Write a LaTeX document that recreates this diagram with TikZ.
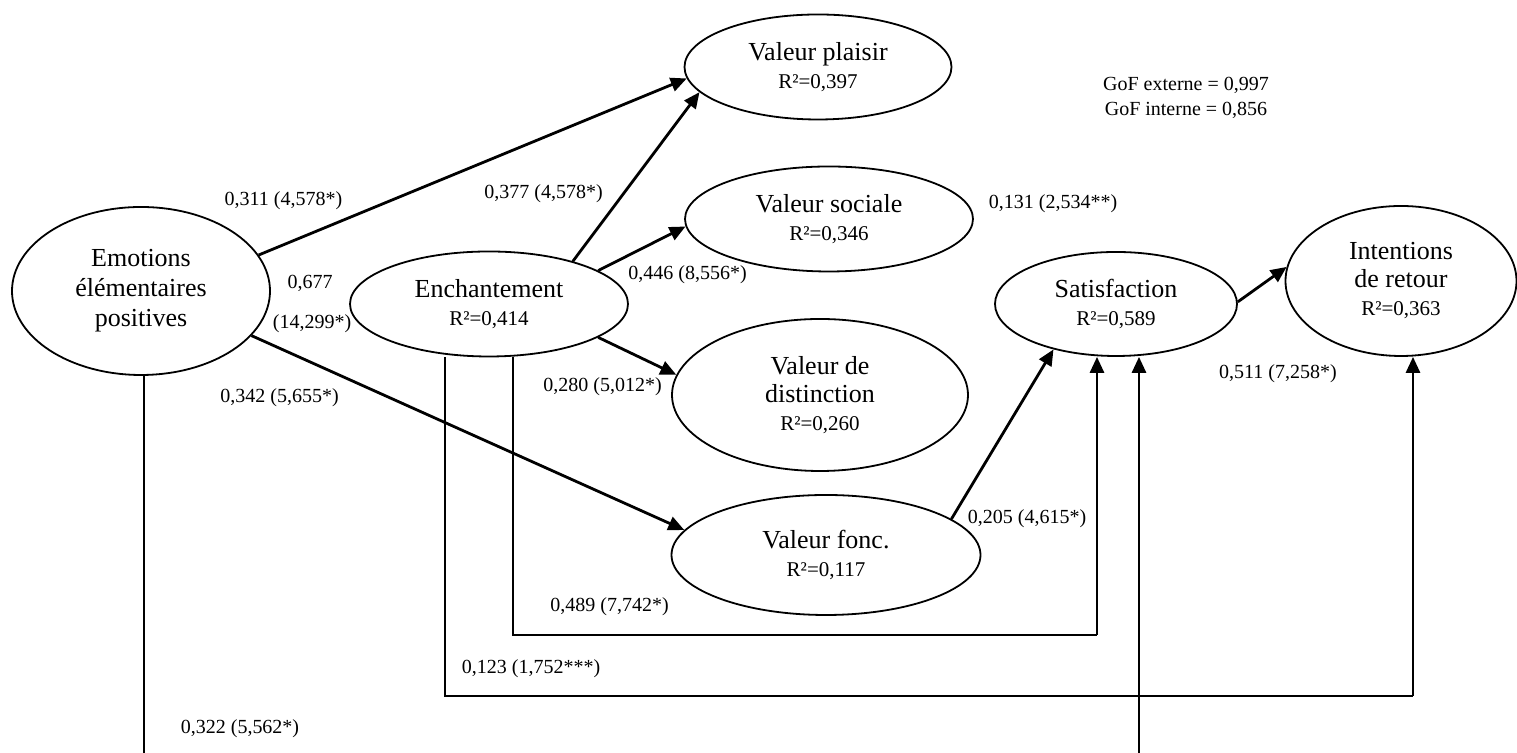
\documentclass[tikz,border=0pt]{standalone}
\usepackage{fontspec}
\setmainfont{Liberation Serif}
\usepackage{tikz}
\usetikzlibrary{arrows.meta,shapes.geometric,calc}
\tikzstyle{lv}=[ellipse,draw=black,line width=0.9pt,inner sep=0pt,
  align=center,font=\fontsize{13}{14}\selectfont]
\tikzstyle{coef}=[inner sep=0pt,align=center,font=\fontsize{10}{12.5}\selectfont]
\tikzstyle{effect}=[-{Triangle[length=8pt,width=7pt]},line width=1.4pt]
\tikzstyle{wire}=[line width=1.2pt]
\tikzstyle{none}=[]
\newcommand{\rsq}[1]{{\fontsize{10.5}{14}\selectfont R²=#1}}

\begin{document}
\begin{tikzpicture}[x=50pt,y=50pt]
            \useasboundingbox (0,0) rectangle (15.17,7.53);
            \node [style=lv,minimum width=129pt,minimum height=84pt] (0) at (1.41, 4.62) {Emotions\\[1pt]élémentaires\\[1pt]positives};
            \node [style=lv,minimum width=139pt,minimum height=52.5pt] (1) at (4.89, 4.49) {Enchantement\\\rsq{0,414}};
            \node [style=lv,minimum width=133.5pt,minimum height=52.5pt] (2) at (8.18, 6.86) {Valeur plaisir\\\rsq{0,397}};
            \node [style=lv,minimum width=144pt,minimum height=52.5pt] (3) at (8.29, 5.34) {Valeur sociale\\\rsq{0,346}};
            \node [style=lv,minimum width=148pt,minimum height=76pt] (4) at (8.20, 3.58) {Valeur de\\distinction\\\rsq{0,260}};
            \node [style=lv,minimum width=154.5pt,minimum height=60pt] (5) at (8.26, 1.98) {Valeur fonc.\\\rsq{0,117}};
            \node [style=lv,minimum width=121pt,minimum height=52pt] (6) at (11.16, 4.49) {Satisfaction\\\rsq{0,589}};
            \node [style=lv,minimum width=115.5pt,minimum height=75pt] (7) at (14.01, 4.72) {Intentions\\de retour\\\rsq{0,363}};
            \node [style=none] (8) at (1.44, 0) {};
            \node [style=none] (9) at (11.39, 0) {};
            \node [style=none] (10) at (5.13, 1.18) {};
            \node [style=none] (11) at (10.97, 1.18) {};
            \node [style=none] (12) at (4.45, 0.57) {};
            \node [style=none] (13) at (14.13, 0.57) {};
            \node [style=coef] (14) at (2.835, 5.52) {0,311 (4,578*)};
            \node [style=coef] (15) at (3.10, 4.70) {0,677};
            \node [style=coef] (16) at (3.12, 4.295) {(14,299*)};
            \node [style=coef] (17) at (2.795, 3.555) {0,342 (5,655*)};
            \node [style=coef] (18) at (5.435, 5.595) {0,377 (4,578*)};
            \node [style=coef] (19) at (6.875, 4.78) {0,446 (8,556*)};
            \node [style=coef] (20) at (10.53, 5.495) {0,131 (2,534**)};
            \node [style=coef] (21) at (11.86, 6.555) {GoF externe = 0,997\\GoF interne = 0,856};
            \node [style=coef] (22) at (12.78, 3.79) {0,511 (7,258*)};
            \node [style=coef] (23) at (6.025, 3.665) {0,280 (5,012*)};
            \node [style=coef] (24) at (10.27, 2.345) {0,205 (4,615*)};
            \node [style=coef] (25) at (6.095, 1.465) {0,489 (7,742*)};
            \node [style=coef] (26) at (5.31, 0.845) {0,123 (1,752***)};
            \node [style=coef] (27) at (2.40, 0.245) {0,322 (5,562*)};
            \draw [style=effect] (0.17) to (2.185);
            \draw [style=effect] (0.338) to (5.170);
            \draw [style=effect] (1.27) to (2.192);
            \draw [style=effect] (1.17) to (3.183);
            \draw [style=effect] (1.343) to (4.172);
            \draw [style=effect] (5.16) to (6.216);
            \draw [style=effect] (6.1) to (7.173);
            \draw [style=wire] (1.south -| 10.center) to (10.center) to (11.center);
            \draw [style=effect] (11.center) to (11.center |- 6.south);
            \draw [style=wire] (1.south -| 12.center) to (12.center) to (13.center);
            \draw [style=effect] (13.center) to (13.center |- 7.south);
            \draw [style=wire] (0.south -| 8.center) to (8.center);
            \draw [style=effect] (9.center) to (9.center |- 6.south);
    \end{tikzpicture}
\end{document}
